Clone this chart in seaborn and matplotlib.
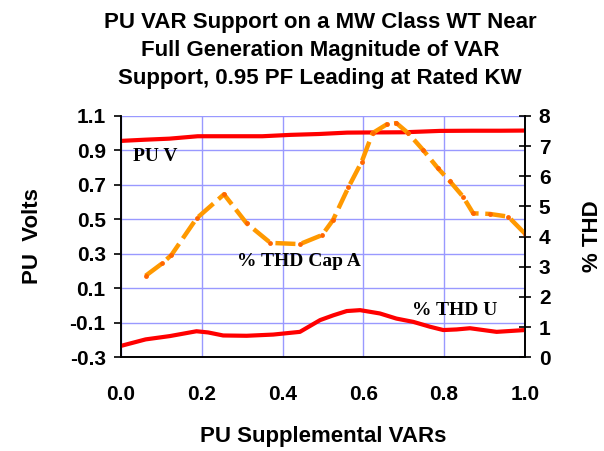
import numpy as np
import pandas as pd
from matplotlib import pyplot as plt
import seaborn as sns

# PU voltage (left axis)
pu_v_x = [0.0, 0.06, 0.12, 0.19, 0.25, 0.35, 0.42, 0.49, 0.56, 0.62, 0.70, 0.79, 0.87, 0.94, 1.0]
pu_v = [0.955, 0.962, 0.968, 0.982, 0.982, 0.982, 0.990, 0.995, 1.003, 1.004, 1.005, 1.013, 1.014, 1.014, 1.015]

# % THD on capacitor phase A (right axis)
cap_x = [0.061, 0.102, 0.125, 0.187, 0.255, 0.311, 0.37, 0.443, 0.498, 0.525, 0.563, 0.596,
         0.623, 0.658, 0.682, 0.711, 0.748, 0.785, 0.814, 0.847, 0.872, 0.913, 0.959, 1.0]
cap_thd = [2.70, 3.11, 3.39, 4.60, 5.40, 4.44, 3.79, 3.75, 4.05, 4.55, 5.63, 6.48,
           7.43, 7.72, 7.76, 7.43, 6.87, 6.26, 5.84, 5.32, 4.77, 4.75, 4.66, 4.10]

# % THD on voltage (right axis)
u_x = [0.0, 0.061, 0.121, 0.187, 0.216, 0.253, 0.311, 0.377, 0.443, 0.493, 0.526, 0.559,
       0.592, 0.641, 0.682, 0.724, 0.765, 0.798, 0.831, 0.864, 0.897, 0.93, 1.0]
u_thd = [0.375, 0.59, 0.70, 0.86, 0.82, 0.72, 0.71, 0.75, 0.84, 1.23, 1.39, 1.53,
         1.56, 1.45, 1.28, 1.17, 1.01, 0.90, 0.92, 0.96, 0.90, 0.84, 0.90]

sns.set_style('white')
plt.rcParams['font.family'] = ['Liberation Sans', 'DejaVu Sans']
plt.rcParams.update({'text.color': 'black', 'axes.labelcolor': 'black',
                     'xtick.color': 'black', 'ytick.color': 'black'})

fig = plt.figure(figsize=(6.04, 4.51), dpi=100)
ax = fig.add_axes([0.2003, 0.208, 0.6687, 0.535])
ax2 = ax.twinx()

sns.lineplot(x=pu_v_x, y=pu_v, ax=ax, color='#FF0000', linewidth=3)
sns.lineplot(x=u_x, y=u_thd, ax=ax2, color='#FF0000', linewidth=3)
sns.lineplot(x=cap_x, y=cap_thd, ax=ax2, color='#FF9900', linewidth=3.2,
             dashes=False, marker='o', markersize=3.5, markerfacecolor='#FF6600',
             markeredgewidth=0)
ax2.lines[-1].set_dashes([4.5, 1.5])

ax.set_xlim(0, 1)
ax.set_ylim(-0.3, 1.1)
ax2.set_ylim(0, 8)
ax.set_xticks(np.arange(0, 1.01, 0.2))
ax.set_yticks(np.arange(-0.3, 1.11, 0.2))
ax2.set_yticks(range(0, 9))
ax.set_xticklabels(['%.1f' % v for v in np.arange(0, 1.01, 0.2)])
ax.set_yticklabels(['%.1f' % v for v in np.arange(-0.3, 1.11, 0.2)])

ax.grid(True, color='#9999FF', linewidth=1)
ax.set_axisbelow(True)
for a in (ax, ax2):
    a.spines['top'].set_visible(False)
    for s in ('left', 'bottom', 'right'):
        a.spines[s].set_color('black')
        a.spines[s].set_linewidth(1.2)
ax.tick_params(axis='x', direction='out', length=5, width=1.2, color='black',
               labelcolor='black', labelsize=15, pad=15)
ax.tick_params(axis='y', direction='out', length=5, width=1.2, color='black',
               labelcolor='black', labelsize=15, pad=6)
ax2.tick_params(axis='y', direction='inout', length=8, width=1.2, color='black',
                labelcolor='black', labelsize=15, pad=6)
for lbl in ax.get_xticklabels() + ax.get_yticklabels() + ax2.get_yticklabels():
    lbl.set_fontweight('bold')

ax.set_xlabel('PU Supplemental VARs', fontsize=16, fontweight='bold', labelpad=16, color='black')
ax.set_ylabel('PU  Volts', fontsize=16, fontweight='bold', labelpad=19, color='black')
ax2.set_ylabel('% THD', fontsize=16, fontweight='bold', labelpad=23, color='black')

fig.suptitle('PU VAR Support on a MW Class WT Near\nFull Generation Magnitude of VAR\n'
             'Support, 0.95 PF Leading at Rated KW',
             x=0.53, y=0.974, fontsize=16, fontweight='bold', linespacing=1.45,
             color='black')

serif = dict(family=['Liberation Serif', 'DejaVu Serif'], fontsize=14,
             fontweight='bold', va='center', color='black')
ax.text(0.03, 0.862, 'PU V', **serif)
ax.text(0.288, 0.254, '% THD Cap A', **serif)
ax.text(0.72, -0.028, '% THD U', **serif)

fig.savefig('out.png', dpi=100)
